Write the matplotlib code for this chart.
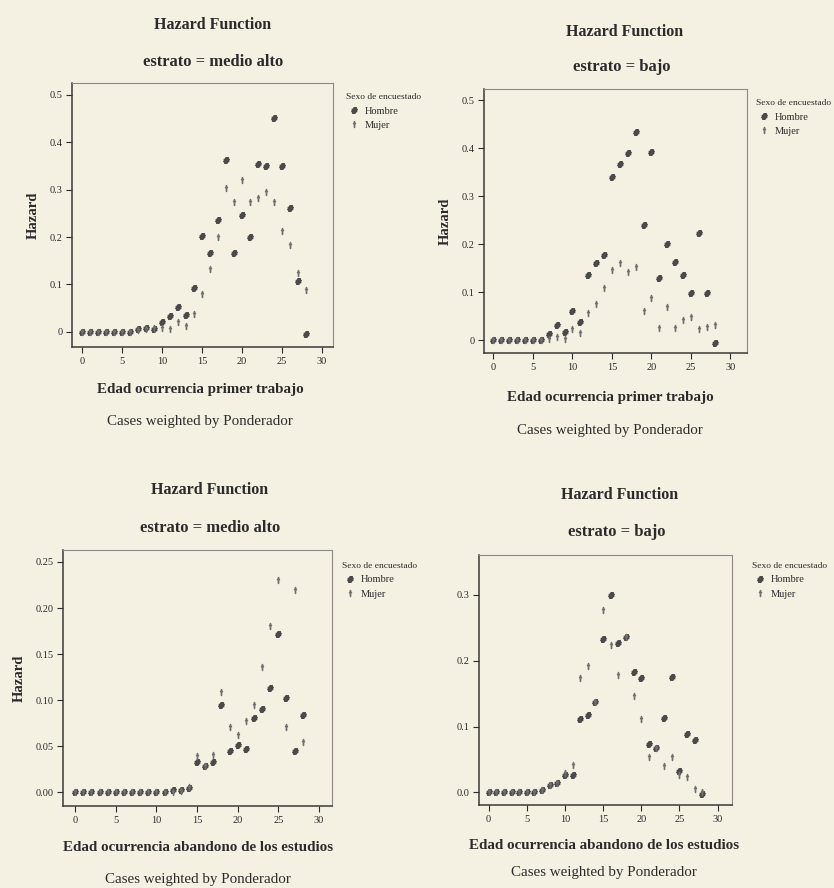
import matplotlib
matplotlib.use("Agg")
import matplotlib.pyplot as plt
from matplotlib.lines import Line2D

plt.rcParams['font.family'] = ['Liberation Serif', 'DejaVu Serif']

# edades 0..28
edades = list(range(29))

# Panel 1: primer trabajo, estrato medio alto
h1 = [0, 0, 0, 0, 0, 0, 0, 0.006, 0.008, 0.006, 0.020, 0.034, 0.052, 0.036, 0.093,
      0.203, 0.166, 0.237, 0.363, 0.166, 0.247, 0.200, 0.355, 0.350, 0.451, 0.350,
      0.261, 0.107, -0.005]
m1 = [0, 0, 0, 0, 0, 0, 0, 0.004, 0.006, 0.008, 0.008, 0.006, 0.021, 0.012, 0.038,
      0.079, 0.133, 0.200, 0.303, 0.273, 0.321, 0.273, 0.282, 0.296, 0.273, 0.212,
      0.183, 0.124, 0.088]

# Panel 2: primer trabajo, estrato bajo
h2 = [0, 0, 0, 0, 0, 0, 0, 0.012, 0.031, 0.017, 0.060, 0.037, 0.135, 0.160, 0.178,
      0.340, 0.366, 0.389, 0.434, 0.240, 0.392, 0.130, 0.201, 0.163, 0.135, 0.097,
      0.222, 0.097, -0.006]
m2 = [0, 0, 0, 0, 0, 0, 0, 0.003, 0.007, 0.003, 0.024, 0.014, 0.056, 0.076, 0.108,
      0.146, 0.160, 0.141, 0.153, 0.060, 0.087, 0.026, 0.069, 0.026, 0.042, 0.049,
      0.023, 0.028, 0.031]

# Panel 3: abandono de estudios, estrato medio alto
h3 = [0, 0, 0, 0, 0, 0, 0, 0, 0, 0, 0, 0, 0.002, 0.002, 0.005,
      0.033, 0.028, 0.033, 0.095, 0.045, 0.051, 0.047, 0.081, 0.090, 0.113, 0.172,
      0.102, 0.045, 0.084]
m3 = [0, 0, 0, 0, 0, 0, 0, 0, 0, 0, 0, 0, 0.000, 0.001, 0.006,
      0.039, 0.028, 0.040, 0.109, 0.071, 0.062, 0.077, 0.095, 0.136, 0.180, 0.230,
      0.071, 0.220, 0.055]

# Panel 4: abandono de estudios, estrato bajo
h4 = [0, 0, 0, 0, 0, 0, 0, 0.004, 0.012, 0.014, 0.026, 0.027, 0.112, 0.117, 0.137,
      0.232, 0.300, 0.226, 0.236, 0.183, 0.174, 0.073, 0.068, 0.113, 0.175, 0.032,
      0.088, 0.079, -0.003]
m4 = [0, 0, 0, 0, 0, 0, 0, 0.004, 0.012, 0.014, 0.030, 0.041, 0.174, 0.191, 0.137,
      0.276, 0.223, 0.178, 0.236, 0.146, 0.111, 0.054, 0.068, 0.040, 0.054, 0.026,
      0.024, 0.006, 0.000]

xticks = [0, 5, 10, 15, 20, 25, 30]
yticks_a = [0, 0.1, 0.2, 0.3, 0.4, 0.5]
ylabels_a = ['0', '0.1', '0.2', '0.3', '0.4', '0.5']
yticks_c = [0, 0.05, 0.10, 0.15, 0.20, 0.25]
ylabels_c = ['0.00', '0.05', '0.10', '0.15', '0.20', '0.25']
yticks_d = [0, 0.1, 0.2, 0.3]
ylabels_d = ['0.0', '0.1', '0.2', '0.3']

W, H = 834, 888
papel = '#f4f1e3'
tinta = '#2b2b2b'
gris_h = '#4a4a4a'
gris_m = '#707070'

fig = plt.figure(figsize=(W / 100, H / 100), dpi=100, facecolor=papel)


def ejes(l, t, r, b):
    return fig.add_axes([l / W, 1 - b / H, (r - l) / W, (b - t) / H])


paneles = [
    dict(rect=(72, 83, 333, 347), h=h1, m=m1, xlim=(-1.3, 31.4), ylim=(-0.032, 0.525),
         yt=yticks_a, yl=ylabels_a, estrato='estrato = medio alto',
         xlab='Edad ocurrencia primer trabajo', ylab=True,
         tit=(213, 25), sub=(213, 62), xl=(200, 389), cw=(200, 421), leg=(346, 93)),
    dict(rect=(484, 89, 747, 353), h=h2, m=m2, xlim=(-1.2, 32.1), ylim=(-0.027, 0.523),
         yt=yticks_a, yl=ylabels_a, estrato='estrato = bajo',
         xlab='Edad ocurrencia primer trabajo', ylab=True,
         tit=(625, 32), sub=(622, 67), xl=(610, 397), cw=(610, 430), leg=(756, 99)),
    dict(rect=(63, 550, 332, 806), h=h3, m=m3, xlim=(-1.5, 31.6), ylim=(-0.015, 0.263),
         yt=yticks_c, yl=ylabels_c, estrato='estrato = medio alto',
         xlab='Edad ocurrencia abandono de los estudios', ylab=True,
         tit=(210, 490), sub=(210, 528), xl=(198, 847), cw=(198, 879), leg=(342, 562)),
    dict(rect=(479, 555, 732, 805), h=h4, m=m4, xlim=(-1.26, 31.9), ylim=(-0.019, 0.36),
         yt=yticks_d, yl=ylabels_d, estrato='estrato = bajo',
         xlab='Edad ocurrencia abandono de los estudios', ylab=False,
         tit=(620, 495), sub=(617, 532), xl=(604, 845), cw=(604, 872), leg=(752, 562)),
]

for p in paneles:
    ax = ejes(*p['rect'])
    ax.set_facecolor(papel)
    ax.plot(edades, p['h'], linestyle='none', marker=r'$\#$', markersize=4,
            color=gris_h, label='Hombre')
    ax.plot(edades, p['m'], linestyle='none', marker=r'$\dagger$', markersize=4,
            color=gris_m, label='Mujer')
    ax.set_xlim(*p['xlim'])
    ax.set_ylim(*p['ylim'])
    ax.set_xticks(xticks)
    ax.set_xticklabels([str(t) for t in xticks])
    ax.set_yticks(p['yt'])
    ax.set_yticklabels(p['yl'])
    ax.tick_params(direction='out', length=4, width=0.8, labelsize=7.5,
                   colors=tinta, pad=3)
    for lado in ['left', 'bottom']:
        ax.spines[lado].set_color('#3a3a3a')
        ax.spines[lado].set_linewidth(1.1)
    for lado in ['top', 'right']:
        ax.spines[lado].set_color('#8a8a8a')
        ax.spines[lado].set_linewidth(0.8)
    if p['ylab']:
        ax.set_ylabel('Hazard', fontsize=10.5, fontweight='bold', color=tinta, labelpad=7)

    fig.text(p['tit'][0] / W, 1 - p['tit'][1] / H, 'Hazard Function', ha='center',
             va='center', fontsize=11.5, fontweight='bold', color=tinta)
    fig.text(p['sub'][0] / W, 1 - p['sub'][1] / H, p['estrato'], ha='center',
             va='center', fontsize=12, fontweight='bold', color=tinta)
    fig.text(p['xl'][0] / W, 1 - p['xl'][1] / H, p['xlab'], ha='center',
             va='center', fontsize=10.8, fontweight='bold', color=tinta)
    fig.text(p['cw'][0] / W, 1 - p['cw'][1] / H, 'Cases weighted by Ponderador',
             ha='center', va='center', fontsize=10.8, color=tinta)

    manijas = [Line2D([], [], linestyle='none', marker=r'$\#$', markersize=4, color=gris_h),
               Line2D([], [], linestyle='none', marker=r'$\dagger$', markersize=4,
                      color=gris_m)]
    leg = fig.legend(manijas, ['Hombre', 'Mujer'], title='Sexo de encuestado',
                     loc='upper left', bbox_to_anchor=(p['leg'][0] / W, 1 - p['leg'][1] / H),
                     frameon=False, fontsize=7.5, title_fontsize=6.8, handlelength=1.6,
                     handletextpad=0.2, labelspacing=0.5, borderpad=0, borderaxespad=0,
                     alignment='left')
    for t in leg.get_texts() + [leg.get_title()]:
        t.set_color(tinta)

fig.savefig('out.png', dpi=100, facecolor=papel)
